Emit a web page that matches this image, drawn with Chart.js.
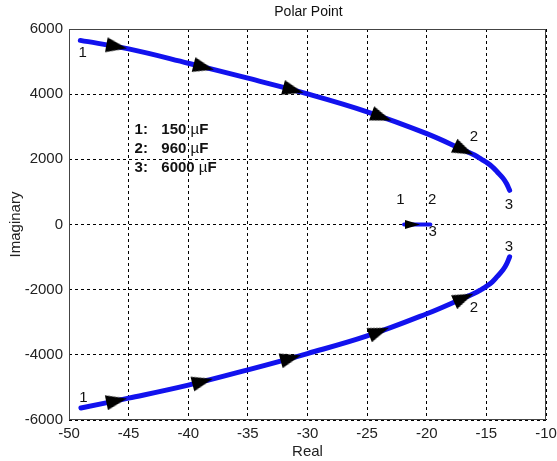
<!DOCTYPE html>
<html lang="en">
<head>
<meta charset="UTF-8">
<title>Polar Point</title>
<script src="https://cdn.jsdelivr.net/npm/chart.js@4.4.0/dist/chart.umd.min.js"></script>
<style>
    html, body { margin: 0; padding: 0; background: #fff; }
</style>
</head>
<body>
<canvas id="polar" width="557" height="461"></canvas>

<script>
    // pole loci, upper branch (imag > 0)
    var upperX = [-49.05, -45, -40, -35, -30, -25, -20, -17, -16, -15.4, -15, -14.5, -14.1, -13.6, -13.3, -13.05];
    var upperY = [5650, 5390, 4950, 4490, 4010, 3460, 2790, 2300, 2130, 2000, 1910, 1770, 1620, 1420, 1250, 1050];
    // lower branch (conjugate)
    var lowerX = [-49.0, -45, -40, -35, -30, -25, -20, -17, -16, -15.4, -15, -14.5, -14.1, -13.6, -13.3, -13.05];
    var lowerY = [-5630, -5330, -4930, -4460, -3960, -3420, -2740, -2270, -2110, -1990, -1900, -1760, -1600, -1390, -1210, -990];
    // real pole
    var midX = [-21.9, -19.7];
    var midY = [0, 0];

    // direction arrows along the loci
    var upperArrowX = [-46.0, -38.7, -31.2, -23.8, -16.9];
    var upperArrowY = [5460, 4830, 4125, 3300, 2283];
    var lowerArrowX = [-46.0, -38.8, -31.4, -24.0, -16.9];
    var lowerArrowY = [-5405, -4817, -4100, -3284, -2254];
    var midArrowX = [-21.2];
    var midArrowY = [0];

    // tick labels
    var xTicks = [-50, -45, -40, -35, -30, -25, -20, -15, -10];
    var yTicks = [-6000, -4000, -2000, 0, 2000, 4000, 6000];

    // capacitance legend
    var legendNum = ['1:', '2:', '3:'];
    var legendVal = ['150', '960', '6000'];
    var legendUnit = 'F';

    // point markers 1/2/3 on the loci
    var markText = ['1', '2', '3', '1', '2', '3', '1', '2', '3'];
    var markX = [-48.85, -16.05, -13.1, -22.2, -19.55, -19.5, -48.8, -16.05, -13.1];
    var markY = [5260, 2685, 600, 750, 750, -230, -5320, -2560, -690];

    var FONT = '"Liberation Sans", Arial, Helvetica, sans-serif';
    var BLUE = '#1212ee';

    function pts(xs, ys) {
        return xs.map(function (x, i) { return {x: x, y: ys[i]}; });
    }

    // arrow head sprite, pointing right
    function makeArrow(len, wid) {
        var c = document.createElement('canvas');
        c.width = len + 2;
        c.height = wid + 2;
        var g = c.getContext('2d');
        g.fillStyle = '#000';
        g.beginPath();
        g.moveTo(len + 1, wid / 2 + 1);
        g.lineTo(1, 1);
        g.lineTo(1, wid + 1);
        g.closePath();
        g.fill();
        return c;
    }
    var bigArrow = makeArrow(21, 15);
    var smallArrow = makeArrow(15, 9);

    // rotate arrow to follow the curve in pixel space
    function tangentDeg(ctx) {
        var ds = ctx.dataset, chart = ctx.chart, p = ctx.raw;
        if (!p || !chart.scales.x || !ds.pathX) return 0;
        var xs = ds.pathX, ys = ds.pathY, i = 0;
        while (i < xs.length - 2 && xs[i + 1] < p.x) i++;
        var sx = chart.scales.x, sy = chart.scales.y;
        var dx = sx.getPixelForValue(xs[i + 1]) - sx.getPixelForValue(xs[i]);
        var dy = sy.getPixelForValue(ys[i + 1]) - sy.getPixelForValue(ys[i]);
        return Math.atan2(dy, dx) * 180 / Math.PI;
    }

    function lineSet(xs, ys, w) {
        return {
            data: pts(xs, ys),
            showLine: true,
            borderColor: BLUE,
            backgroundColor: BLUE,
            borderWidth: w,
            borderCapStyle: 'round',
            borderJoinStyle: 'round',
            tension: 0.4,
            pointRadius: 0,
            order: 2
        };
    }

    function arrowSet(ax, ay, xs, ys, sprite) {
        return {
            data: pts(ax, ay),
            pathX: xs,
            pathY: ys,
            showLine: false,
            pointStyle: sprite,
            pointRadius: 10,
            rotation: tangentDeg,
            order: 1
        };
    }

    var annot = {
        id: 'annot',
        beforeDatasetsDraw: function (chart) {
            var a = chart.chartArea, c = chart.ctx;
            c.save();
            c.strokeStyle = '#444';
            c.lineWidth = 1;
            c.strokeRect(a.left + 0.5, a.top + 0.5, a.right - a.left - 1, a.bottom - a.top - 1);
            c.restore();
        },
        afterDraw: function (chart) {
            var a = chart.chartArea, c = chart.ctx;
            var sx = chart.scales.x, sy = chart.scales.y;
            c.save();
            c.fillStyle = '#111';
            c.textBaseline = 'middle';
            c.textAlign = 'center';
            c.font = '14px ' + FONT;
            c.fillText('Polar Point', (a.left + a.right) / 2 + 1, 12);

            c.font = '15px ' + FONT;
            for (var i = 0; i < markText.length; i++) {
                c.fillText(markText[i], sx.getPixelForValue(markX[i]), sy.getPixelForValue(markY[i]));
            }

            // legend block
            c.textAlign = 'left';
            var x0 = sx.getPixelForValue(-44.5), x1 = sx.getPixelForValue(-42.26);
            var rowY = [2900, 2317, 1734];
            for (var j = 0; j < legendNum.length; j++) {
                var y = sy.getPixelForValue(rowY[j]);
                c.font = 'bold 15px ' + FONT;
                c.fillText(legendNum[j], x0, y);
                var s = legendVal[j] + ' ';
                c.fillText(s, x1, y);
                var xx = x1 + c.measureText(s).width;
                c.font = '15px ' + FONT;
                c.fillText('\u00b5', xx, y);
                xx += c.measureText('\u00b5').width;
                c.font = 'bold 15px ' + FONT;
                c.fillText(legendUnit, xx, y);
            }
            c.restore();
        }
    };

    new Chart(document.getElementById('polar'), {
        type: 'scatter',
        data: {
            datasets: [
                lineSet(upperX, upperY, 5),
                lineSet(lowerX, lowerY, 5),
                lineSet(midX, midY, 4),
                arrowSet(upperArrowX, upperArrowY, upperX, upperY, bigArrow),
                arrowSet(lowerArrowX, lowerArrowY, lowerX, lowerY, bigArrow),
                arrowSet(midArrowX, midArrowY, midX, midY, smallArrow)
            ]
        },
        options: {
            responsive: false,
            animation: false,
            layout: {padding: {top: 29, right: 7, bottom: 0, left: 0}},
            plugins: {legend: {display: false}, tooltip: {enabled: false}},
            scales: {
                x: {
                    type: 'linear',
                    min: -50,
                    max: -10,
                    afterBuildTicks: function (s) {
                        s.ticks = xTicks.map(function (v) { return {value: v}; });
                    },
                    afterFit: function (s) {
                        s.height = 41;
                        s.paddingLeft = 0;
                        s.paddingRight = 0;
                    },
                    ticks: {
                        color: '#222',
                        padding: 5,
                        maxRotation: 0,
                        autoSkip: false,
                        font: {family: FONT, size: 15},
                        callback: function (v) { return String(v); }
                    },
                    grid: {color: '#000', lineWidth: 1, drawTicks: false},
                    border: {display: false, dash: [3, 3]},
                    title: {
                        display: true,
                        text: 'Real',
                        color: '#222',
                        font: {family: FONT, size: 15},
                        padding: {top: 0, bottom: 0}
                    }
                },
                y: {
                    type: 'linear',
                    min: -6000,
                    max: 6000,
                    afterBuildTicks: function (s) {
                        s.ticks = yTicks.map(function (v) { return {value: v}; });
                    },
                    afterFit: function (s) {
                        s.width = 69;
                        s.paddingTop = 0;
                        s.paddingBottom = 0;
                    },
                    ticks: {
                        color: '#222',
                        padding: 6,
                        autoSkip: false,
                        font: {family: FONT, size: 15},
                        callback: function (v) { return String(v); }
                    },
                    grid: {color: '#000', lineWidth: 1, drawTicks: false},
                    border: {display: false, dash: [3, 3]},
                    title: {
                        display: true,
                        text: 'Imaginary',
                        color: '#222',
                        font: {family: FONT, size: 15},
                        padding: {top: 7, bottom: 0}
                    }
                }
            }
        },
        plugins: [annot]
    });
</script>
</body>
</html>
